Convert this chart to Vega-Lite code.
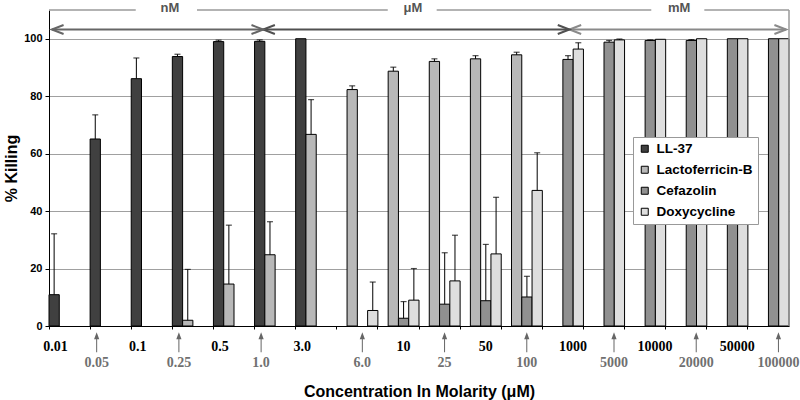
{
  "$schema": "https://vega.github.io/schema/vega-lite/v6.json",
  "width": 740,
  "height": 316,
  "autosize": {"type": "none"},
  "padding": {"left": 49, "top": 10, "right": 11, "bottom": 74},
  "background": "white",
  "config": {
    "view": {"stroke": null},
    "font": "Liberation Sans"
  },
  "datasets": {
    "bars": [
      {"conc": "0.01", "drug": "LL-37", "kill": 10.9, "hi": 32.1},
      {"conc": "0.05", "drug": "LL-37", "kill": 65.1, "hi": 73.5},
      {"conc": "0.1", "drug": "LL-37", "kill": 86.1, "hi": 93.3},
      {"conc": "0.25", "drug": "LL-37", "kill": 93.8, "hi": 94.6},
      {"conc": "0.5", "drug": "LL-37", "kill": 99.0, "hi": 99.5},
      {"conc": "1.0", "drug": "LL-37", "kill": 99.1, "hi": 99.6},
      {"conc": "3.0", "drug": "LL-37", "kill": 100, "hi": null},
      {"conc": "0.25", "drug": "Lactoferricin-B", "kill": 2.0, "hi": 19.7},
      {"conc": "0.5", "drug": "Lactoferricin-B", "kill": 14.6, "hi": 35.1},
      {"conc": "1.0", "drug": "Lactoferricin-B", "kill": 24.8, "hi": 36.3},
      {"conc": "3.0", "drug": "Lactoferricin-B", "kill": 66.7, "hi": 78.8},
      {"conc": "6.0", "drug": "Lactoferricin-B", "kill": 82.3, "hi": 83.6},
      {"conc": "10", "drug": "Lactoferricin-B", "kill": 88.7, "hi": 90.1},
      {"conc": "25", "drug": "Lactoferricin-B", "kill": 92.1, "hi": 93.0},
      {"conc": "50", "drug": "Lactoferricin-B", "kill": 93.0, "hi": 94.1},
      {"conc": "100", "drug": "Lactoferricin-B", "kill": 94.4, "hi": 95.3},
      {"conc": "10", "drug": "Cefazolin", "kill": 2.7, "hi": 8.5},
      {"conc": "25", "drug": "Cefazolin", "kill": 7.6, "hi": 25.5},
      {"conc": "50", "drug": "Cefazolin", "kill": 8.8, "hi": 28.4},
      {"conc": "100", "drug": "Cefazolin", "kill": 10.1, "hi": 17.3},
      {"conc": "1000", "drug": "Cefazolin", "kill": 92.8, "hi": 94.1},
      {"conc": "5000", "drug": "Cefazolin", "kill": 98.8, "hi": 99.4},
      {"conc": "10000", "drug": "Cefazolin", "kill": 99.4, "hi": 99.6},
      {"conc": "20000", "drug": "Cefazolin", "kill": 99.4, "hi": 99.7},
      {"conc": "50000", "drug": "Cefazolin", "kill": 100, "hi": null},
      {"conc": "100000", "drug": "Cefazolin", "kill": 100, "hi": null},
      {"conc": "6.0", "drug": "Doxycycline", "kill": 5.4, "hi": 15.3},
      {"conc": "10", "drug": "Doxycycline", "kill": 9.0, "hi": 20.0},
      {"conc": "25", "drug": "Doxycycline", "kill": 15.7, "hi": 31.6},
      {"conc": "50", "drug": "Doxycycline", "kill": 25.1, "hi": 44.8},
      {"conc": "100", "drug": "Doxycycline", "kill": 47.2, "hi": 60.3},
      {"conc": "1000", "drug": "Doxycycline", "kill": 96.4, "hi": 98.6},
      {"conc": "5000", "drug": "Doxycycline", "kill": 99.6, "hi": 99.9},
      {"conc": "10000", "drug": "Doxycycline", "kill": 99.8, "hi": null},
      {"conc": "20000", "drug": "Doxycycline", "kill": 100, "hi": null},
      {"conc": "50000", "drug": "Doxycycline", "kill": 100, "hi": null},
      {"conc": "100000", "drug": "Doxycycline", "kill": 100, "hi": null}
    ],
    "pointed": [
      {"conc": "0.05"}, {"conc": "0.25"}, {"conc": "1.0"}, {"conc": "6.0"}, {"conc": "25"},
      {"conc": "100"}, {"conc": "5000"}, {"conc": "20000"}, {"conc": "100000"}
    ],
    "brackets": [
      {"a": 0, "b": 2.11, "lvl": 110},
      {"a": 3.6, "b": 8.24, "lvl": 110},
      {"a": 9.43, "b": 14.65, "lvl": 110},
      {"a": 15.94, "b": 18, "lvl": 110}
    ],
    "units": [
      {"p": 2.94, "lvl": 110.6, "unit": "nM"},
      {"p": 8.85, "lvl": 110.6, "unit": "μM"},
      {"p": 15.33, "lvl": 110.6, "unit": "mM"}
    ],
    "arrows": [
      {"a": 0.07, "b": 5.21, "lvl": 103.2, "unit": "nM"},
      {"a": 5.21, "b": 12.66, "lvl": 103.2, "unit": "μM"},
      {"a": 12.66, "b": 17.93, "lvl": 103.2, "unit": "mM"}
    ]
  },
  "layer": [
    {
      "layer": [
        {
          "data": {"name": "bars"},
          "mark": {"type": "bar", "stroke": "black", "strokeWidth": 1},
          "encoding": {
            "x": {
              "field": "conc", "type": "nominal",
              "scale": {"domain": ["0.01","0.05","0.1","0.25","0.5","1.0","3.0","6.0","10","25","50","100","1000","5000","10000","20000","50000","100000"], "paddingInner": 0, "paddingOuter": 0},
              "axis": {
                "title": "Concentration In Molarity (μM)",
                "titleFont": "Liberation Sans", "titleFontSize": 16, "titleFontWeight": "bold", "titleColor": "black",
                "titlePadding": 14,
                "labelAngle": 0,
                "bandPosition": 0,
                "domainColor": "black", "tickColor": "black", "tickSize": 3,
                "grid": false,
                "labelFont": "Liberation Serif", "labelFontSize": 14, "labelFontWeight": "bold",
                "labelBaseline": "top",
                "labelOverlap": false,
                "labelColor": {"condition": {"test": "indexof(['0.05','0.25','1.0','6.0','25','100','5000','20000','100000'], datum.value) >= 0", "value": "#707070"}, "value": "black"},
                "labelPadding": {"condition": {"test": "indexof(['0.05','0.25','1.0','6.0','25','100','5000','20000','100000'], datum.value) >= 0", "value": 26}, "value": 10},
                "labelOffset": {"expr": "indexof(['0.01','0.05','0.1','0.25','0.5','1.0','3.0'], datum.value) >= 0 ? -14 : (indexof(['6.0','10','25','50','100'], datum.value) >= 0 ? 5 : 10)"}
              }
            },
            "xOffset": {"field": "drug", "type": "nominal", "scale": {"domain": ["LL-37","Lactoferricin-B","Cefazolin","Doxycycline"], "paddingInner": 0, "paddingOuter": 0}},
            "y": {
              "field": "kill", "type": "quantitative",
              "scale": {"domain": [0, 110], "nice": false},
              "axis": {
                "title": "% Killing",
                "titleFont": "Liberation Sans", "titleFontSize": 16, "titleFontWeight": "bold", "titleColor": "black",
                "titlePadding": 4,
                "values": [0, 20, 40, 60, 80, 100],
                "labelFont": "Liberation Sans", "labelFontSize": 11, "labelFontWeight": "bold", "labelColor": "black",
                "labelPadding": 3,
                "tickSize": 4, "tickColor": "black",
                "domainColor": "black",
                "grid": true, "gridColor": "#a0a0a0", "gridWidth": 1
              }
            },
            "color": {
              "field": "drug", "type": "nominal",
              "scale": {"domain": ["LL-37","Lactoferricin-B","Cefazolin","Doxycycline"], "range": ["#404040","#b8b8b8","#909090","#dedede"]},
              "legend": {
                "title": null,
                "orient": "none", "legendX": 584, "legendY": 127,
                "fillColor": "white", "strokeColor": "#999999",
                "padding": 5,
                "labelFont": "Liberation Sans", "labelFontSize": 13.5, "labelFontWeight": "bold", "labelColor": "black",
                "labelOffset": 5,
                "rowPadding": 6,
                "symbolType": "square", "symbolSize": 49,
                "symbolStrokeColor": "black", "symbolStrokeWidth": 1
              }
            }
          }
        },
        {
          "data": {"name": "bars"},
          "transform": [{"filter": "datum.hi != null"}],
          "mark": {"type": "rule", "color": "black", "strokeWidth": 1},
          "encoding": {
            "x": {"field": "conc", "type": "nominal"},
            "xOffset": {"field": "drug", "type": "nominal"},
            "y": {"field": "kill", "type": "quantitative"},
            "y2": {"field": "hi"}
          }
        },
        {
          "data": {"name": "bars"},
          "transform": [{"filter": "datum.hi != null"}],
          "mark": {"type": "tick", "color": "black", "size": 6, "thickness": 1.2, "orient": "horizontal"},
          "encoding": {
            "x": {"field": "conc", "type": "nominal"},
            "xOffset": {"field": "drug", "type": "nominal"},
            "y": {"field": "hi", "type": "quantitative"}
          }
        },
        {
          "data": {"name": "pointed"},
          "mark": {
            "type": "point",
            "shape": "M0,-1L0.26,-0.3L0.05,-0.3L0.05,1L-0.05,1L-0.05,-0.3L-0.26,-0.3Z",
            "filled": true, "size": 400, "color": "#666666", "opacity": 1, "strokeWidth": 0,
            "xOffset": {"expr": "indexof(['0.05','0.25','1.0'], datum.conc) >= 0 ? -14 : (indexof(['6.0','25','100'], datum.conc) >= 0 ? 5 : 10)"}
          },
          "encoding": {
            "x": {"field": "conc", "type": "nominal"},
            "y": {"datum": -5.7, "type": "quantitative"}
          }
        }
      ]
    },
    {
      "layer": [
        {
          "data": {"name": "brackets"},
          "mark": {"type": "rule", "color": "#9a9a9a", "strokeWidth": 1.5},
          "encoding": {
            "x": {"field": "a", "type": "quantitative", "scale": {"domain": [0, 18], "nice": false, "zero": false}, "axis": null},
            "x2": {"field": "b"},
            "y": {"field": "lvl", "type": "quantitative"}
          }
        },
        {
          "data": {"values": [{"p": 18, "lo": 0, "hi": 110}]},
          "mark": {"type": "rule", "color": "#9a9a9a", "strokeWidth": 1.5},
          "encoding": {
            "x": {"field": "p", "type": "quantitative"},
            "y": {"field": "lo", "type": "quantitative"},
            "y2": {"field": "hi"}
          }
        },
        {
          "data": {"name": "units"},
          "mark": {"type": "text", "font": "Liberation Sans", "fontSize": 13, "fontWeight": "bold", "color": "#555555", "baseline": "middle"},
          "encoding": {
            "x": {"field": "p", "type": "quantitative"},
            "y": {"field": "lvl", "type": "quantitative"},
            "text": {"field": "unit"}
          }
        },
        {
          "data": {"name": "arrows"},
          "mark": {"type": "rule", "strokeWidth": 2},
          "encoding": {
            "x": {"field": "a", "type": "quantitative"},
            "x2": {"field": "b"},
            "y": {"field": "lvl", "type": "quantitative"},
            "stroke": {"field": "unit", "type": "nominal", "scale": {"domain": ["nM","μM","mM"], "range": ["#666666","#505050","#8a8a8a"]}, "legend": null}
          }
        },
        {
          "data": {"name": "arrows"},
          "mark": {"type": "point", "shape": "M2.6,-1L0,0L2.6,1", "filled": false, "size": 81, "strokeWidth": 2, "opacity": 1},
          "encoding": {
            "x": {"field": "a", "type": "quantitative"},
            "y": {"field": "lvl", "type": "quantitative"},
            "stroke": {"field": "unit", "type": "nominal", "legend": null}
          }
        },
        {
          "data": {"name": "arrows"},
          "mark": {"type": "point", "shape": "M-2.6,-1L0,0L-2.6,1", "filled": false, "size": 81, "strokeWidth": 2, "opacity": 1},
          "encoding": {
            "x": {"field": "b", "type": "quantitative"},
            "y": {"field": "lvl", "type": "quantitative"},
            "stroke": {"field": "unit", "type": "nominal", "legend": null}
          }
        }
      ]
    }
  ],
  "resolve": {"scale": {"x": "independent"}, "axis": {"x": "independent"}}
}
